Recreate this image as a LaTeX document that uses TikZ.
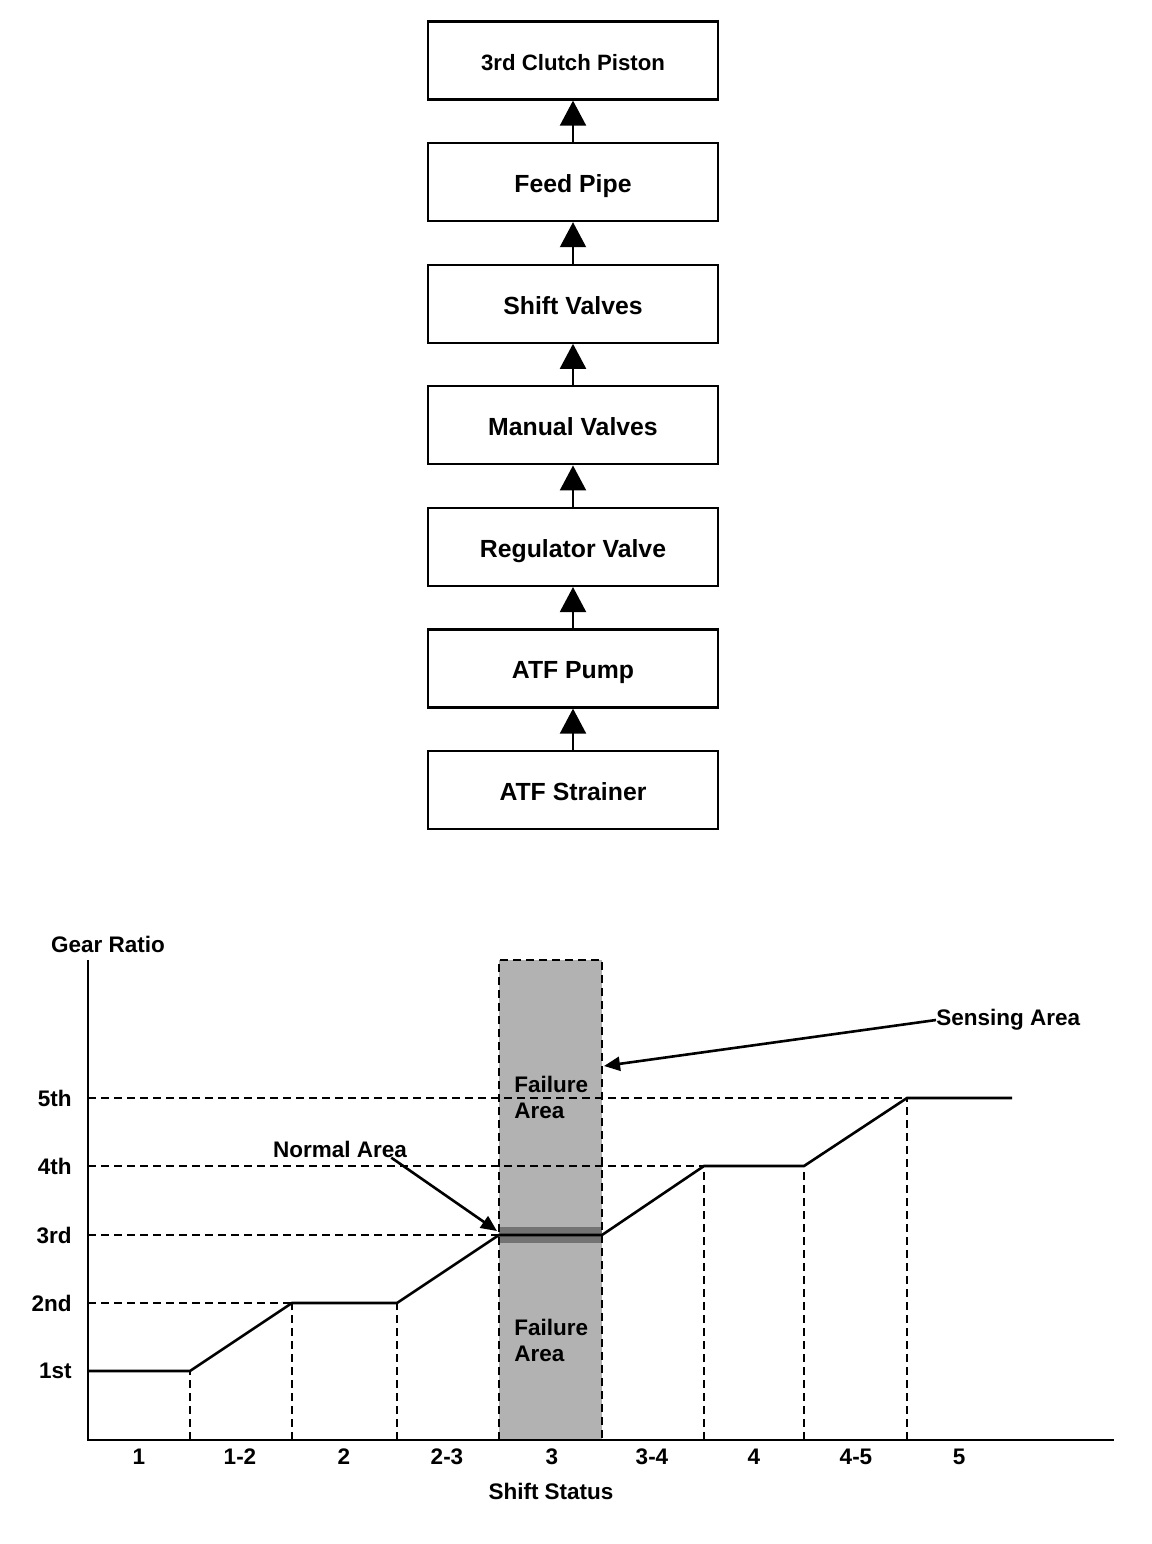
\documentclass[tikz,border=0pt]{standalone}
\usepackage{fontspec}
\setmainfont{Liberation Sans}
\usetikzlibrary{positioning,arrows.meta}

\tikzset{
  flowbox/.style={draw, line width=1.1pt, minimum width=145pt, minimum height=39pt,
    inner sep=0pt, text height=10.4pt, text depth=0pt,
    font=\bfseries\fontsize{12.4}{14}\selectfont},
  flowarrow/.style={-{Triangle[length=12.5pt,width=13pt]}, line width=1pt},
  guide/.style={dash pattern=on 4pt off 2.5pt, line width=0.9pt},
  pointer/.style={-{Triangle[length=8pt,width=7pt]}, line width=1.3pt},
  lbl/.style={inner sep=0pt, font=\bfseries\fontsize{11.25}{13}\selectfont},
}

\begin{document}
\begin{tikzpicture}[x=0.5pt,y=-0.5pt, node distance=20.7pt]
\useasboundingbox (0,0) rectangle (1152,1544);

% ATF flow
\node[flowbox, font=\bfseries\fontsize{11.1}{13}\selectfont, text height=9.5pt] (piston) at (573,60.5) {3rd Clutch Piston};
\node[flowbox, below=of piston] (pipe) {Feed Pipe};
\node[flowbox, below=of pipe] (shift) {Shift Valves};
\node[flowbox, below=of shift] (manual) {Manual Valves};
\node[flowbox, below=of manual] (regulator) {Regulator Valve};
\node[flowbox, below=of regulator] (pump) {ATF Pump};
\node[flowbox, below=of pump] (strainer) {ATF Strainer};
\draw[flowarrow] (strainer) -- (pump);
\draw[flowarrow] (pump) -- (regulator);
\draw[flowarrow] (regulator) -- (manual);
\draw[flowarrow] (manual) -- (shift);
\draw[flowarrow] (shift) -- (pipe);
\draw[flowarrow] (pipe) -- (piston);

% sensing area band
\fill[black!30] (499,960) rectangle (602,1440);
\fill[black!55] (499,1227) rectangle (602,1243);
\draw[guide] (499,1440) -- (499,960) -- (602,960) -- (602,1440);

% axes
\draw[line width=1pt] (88,960) -- (88,1440) -- (1114,1440);

% guide lines
\draw[guide] (88,1098) -- (907,1098);
\draw[guide] (88,1166) -- (704,1166);
\draw[guide] (88,1235) -- (499,1235);
\draw[guide] (88,1303) -- (292,1303);
\foreach \x/\y in {190/1371, 292/1303, 397/1303, 704/1166, 804/1166, 907/1098}
  \draw[guide] (\x,1440) -- (\x,\y);

% gear ratio curve
\draw[line width=1.3pt] (88,1371) -- (190,1371) -- (292,1303) -- (397,1303) -- (499,1235)
  -- (602,1235) -- (704,1166) -- (804,1166) -- (907,1098) -- (1012,1098);

% labels
\node[lbl] (ratio) at (108,944) {Gear Ratio};
\foreach \y/\t in {1371/1st, 1303/2nd, 1235/3rd, 1166/4th, 1098/5th}
  \node[lbl, anchor=east] (lv-\t) at (72,\y) {\t};
\foreach \x/\t in {139/1, 240/1-2, 344/2, 447/2-3, 552/3, 652/3-4, 754/4, 856/4-5, 959/5}
  \node[lbl] (st-\t) at (\x,1457) {\t};
\node[lbl] (status) at (551,1491) {Shift Status};
\node[lbl, anchor=west, align=left] (failtop) at (514,1097) {Failure\\Area};
\node[lbl, anchor=west, align=left] (failbottom) at (514,1340) {Failure\\Area};
\node[lbl] (normal) at (340,1149) {Normal Area};
\node[lbl, anchor=west] (sensing) at (936,1020) {Sensing Area};

% pointers
\coordinate (normaltip) at (497,1231);
\coordinate (sensetip) at (604,1066);
\draw[pointer] ([xshift=-8pt]normal.south east) -- (normaltip);
\draw[pointer] (sensing.west) -- (sensetip);
\end{tikzpicture}
\end{document}
